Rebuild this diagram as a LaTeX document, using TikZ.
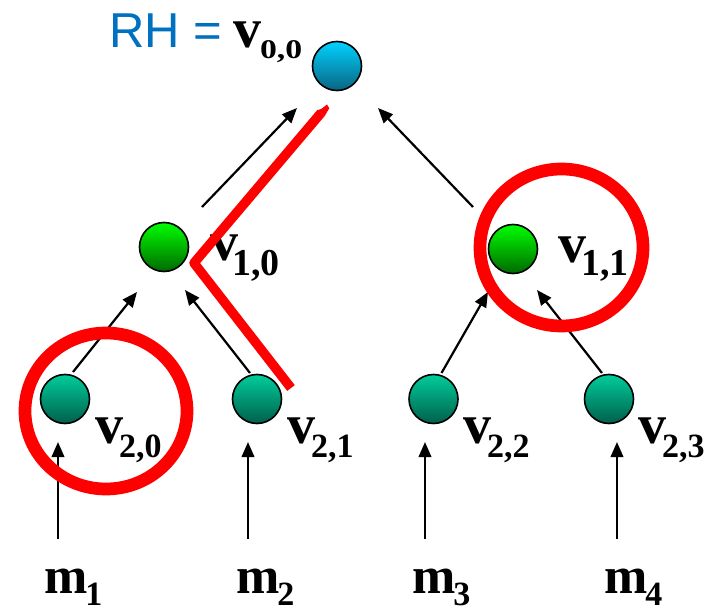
\documentclass[tikz,border=0pt]{standalone}
\usepackage{fontspec}
\setmainfont{Liberation Serif}
\newfontfamily\lsans{Liberation Sans}
\usetikzlibrary{arrows.meta,calc}
\definecolor{rhblue}{RGB}{0,112,192}
\definecolor{markred}{RGB}{255,0,0}
\newcommand{\vlab}[4]{\fontsize{56}{56}\selectfont #1\kern#2\raisebox{#3}{#4}}
\begin{document}
\begin{tikzpicture}[x=1pt,y=-1pt,
  vnode/.style={circle,draw=black,line width=1.6pt,minimum size=49pt,inner sep=0pt},
  cyannode/.style={vnode,top color={rgb,255:red,0;green,210;blue,255},bottom color={rgb,255:red,10;green,100;blue,130}},
  greennode/.style={vnode,top color={rgb,255:red,0;green,255;blue,0},bottom color={rgb,255:red,0;green,105;blue,0}},
  tealnode/.style={vnode,top color={rgb,255:red,0;green,205;blue,155},bottom color={rgb,255:red,0;green,95;blue,75}},
  lbl/.style={anchor=base west,inner sep=0pt,outer sep=0pt,font=\bfseries},
  arr/.style={line width=2.2pt,-{Triangle[length=15pt,width=12.5pt]}},
  redmark/.style={draw=markred,line width=12.7pt},
  redline/.style={draw=markred,line width=9.5pt,line join=round}]
\useasboundingbox (0,0) rectangle (718,607);

% nodes
\node[cyannode]  (v00) at (337,66) {};
\node[greennode] (v10) at (164,247) {};
\node[greennode] (v11) at (513,249) {};
\node[tealnode]  (v20) at (65,399) {};
\node[tealnode]  (v21) at (257,399) {};
\node[tealnode]  (v22) at (433.5,399) {};
\node[tealnode]  (v23) at (609,399) {};

% labels
\node[anchor=base west,inner sep=0pt,text=rhblue,font=\lsans\fontsize{49}{49}\selectfont] (rh) at (109,48) {RH =};
\node[lbl] (l00) at (233,48) {\vlab{v}{-1pt}{-11pt}{\scalebox{1.25}[1]{\fontsize{27}{27}\selectfont 0,0}}};
\node[lbl] (l10) at (210,260) {\vlab{v}{-6pt}{-15pt}{\fontsize{38}{38}\selectfont 1,0}};
\node[lbl] (l11) at (558,262) {\vlab{v}{-5pt}{-13pt}{\fontsize{38}{38}\selectfont 1,1}};
\node[lbl] (l20) at (95,443) {\vlab{v}{-4pt}{-14pt}{\fontsize{34}{34}\selectfont 2,0}};
\node[lbl] (l21) at (287,443) {\vlab{v}{-4pt}{-14pt}{\fontsize{34}{34}\selectfont 2,1}};
\node[lbl] (l22) at (463,443) {\vlab{v}{-4pt}{-14pt}{\fontsize{34}{34}\selectfont 2,2}};
\node[lbl] (l23) at (638,443) {\vlab{v}{-4pt}{-14pt}{\fontsize{34}{34}\selectfont 2,3}};

\node[lbl] (m1) at (44,593) {\fontsize{52}{52}\selectfont m\kern-2pt\raisebox{-12pt}{\fontsize{34}{34}\selectfont 1}};
\node[lbl] (m2) at (236,593) {\fontsize{52}{52}\selectfont m\kern-2pt\raisebox{-12pt}{\fontsize{34}{34}\selectfont 2}};
\node[lbl] (m3) at (412,593) {\fontsize{52}{52}\selectfont m\kern-2pt\raisebox{-12pt}{\fontsize{34}{34}\selectfont 3}};
\node[lbl] (m4) at (604,593) {\fontsize{52}{52}\selectfont m\kern-2pt\raisebox{-12pt}{\fontsize{34}{34}\selectfont 4}};

% arrows
\draw[arr] ($(v20)+(8,-27)$) -- ($(v10)+(-27,45)$);
\draw[arr] ($(v21)+(-7,-26)$) -- ($(v10)+(21,43)$);
\draw[arr] ($(v10)+(38,-40)$) -- ($(v00)+(-40,42)$);
\draw[arr] ($(v11)+(-40,-42)$) -- ($(v00)+(41,42)$);
\draw[arr] ($(v22)+(8,-26)$) -- ($(v11)+(-25,43)$);
\draw[arr] ($(v23)+(-7,-26)$) -- ($(v11)+(24,41)$);

\draw[arr] ($(v20)+(-7,140)$) -- ($(v20)+(-7,43)$);
\draw[arr] ($(v21)+(-9,140)$) -- ($(v21)+(-9,43)$);
\draw[arr] ($(v22)+(-8.5,140)$) -- ($(v22)+(-8.5,43)$);
\draw[arr] ($(v23)+(8,140)$) -- ($(v23)+(8,43)$);

% red annotations
\draw[redmark] (106,411) ellipse [x radius=81pt,y radius=78pt];
\draw[redmark] (561.5,247.5) ellipse [x radius=81.5pt,y radius=78.5pt];
\draw[redline] (291,388) -- (194,263) -- (321,113);
\fill[markred] (317.4,110.3) -- (321.5,108.8) -- (327,104.5) -- (329.3,108.2) -- (324.6,116.1) -- cycle;
\end{tikzpicture}
\end{document}
